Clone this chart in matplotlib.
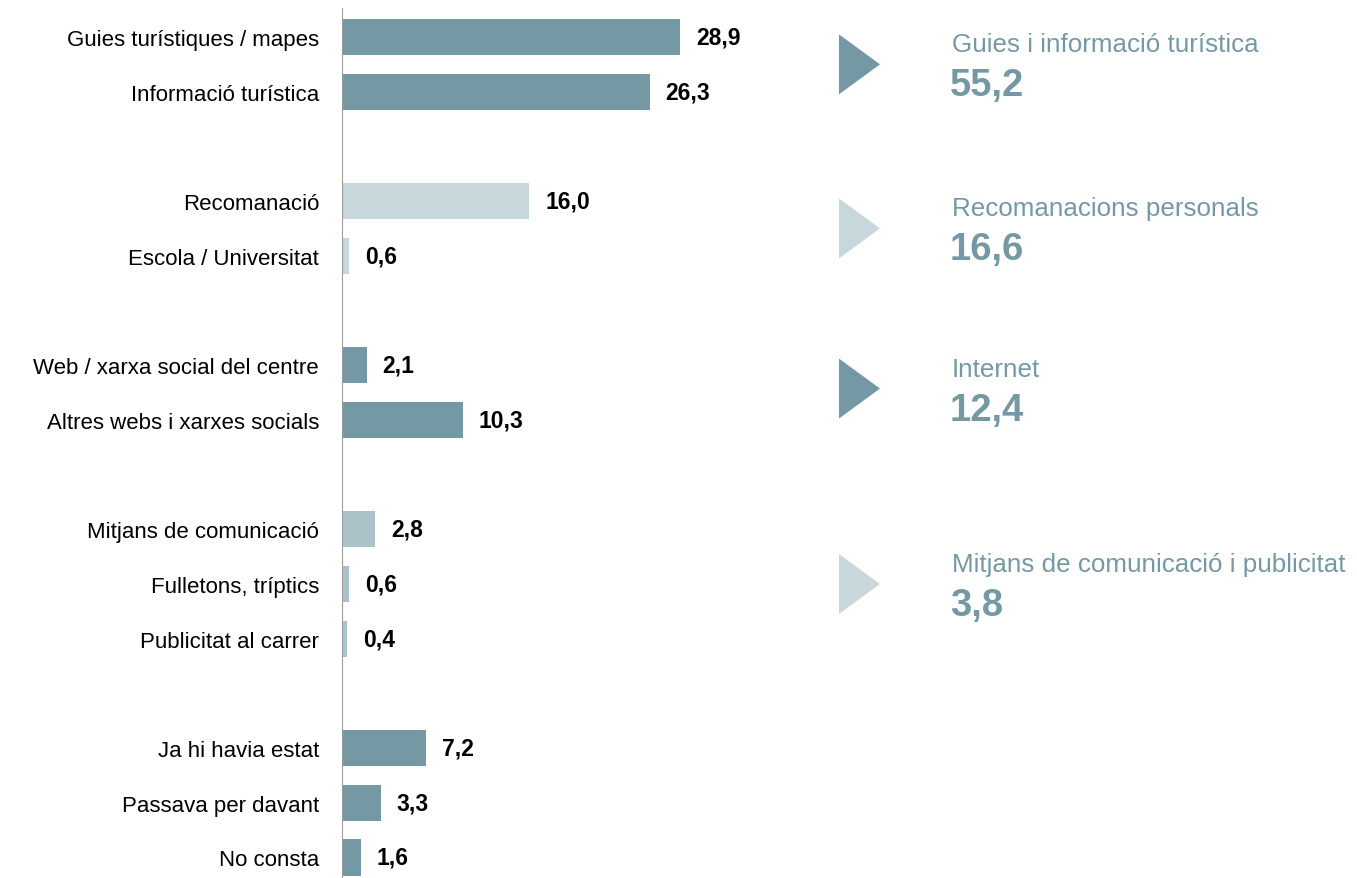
import matplotlib
matplotlib.use("Agg")
import matplotlib.pyplot as plt
from matplotlib.patches import Polygon

plt.rcParams['font.family'] = ['Liberation Sans', 'DejaVu Sans']

# ---- data ----
categories = ["Guies turístiques / mapes", "Informació turística",
              "Recomanació", "Escola / Universitat",
              "Web / xarxa social del centre", "Altres webs i xarxes socials",
              "Mitjans de comunicació", "Fulletons, tríptics", "Publicitat al carrer",
              "Ja hi havia estat", "Passava per davant", "No consta"]
values = [28.9, 26.3, 16.0, 0.6, 2.1, 10.3, 2.8, 0.6, 0.4, 7.2, 3.3, 1.6]
groups = [0, 0, 1, 1, 2, 2, 3, 3, 3, 4, 4, 4]
group_titles = ["Guies i informació turística", "Recomanacions personals",
                "Internet", "Mitjans de comunicació i publicitat"]
group_totals = [55.2, 16.6, 12.4, 3.8]

DARK = "#7499A4"
LIGHT = "#C8D7DC"
MED = "#ABC2C8"
bar_colors_by_group = [DARK, LIGHT, DARK, MED, DARK]
tri_colors = [DARK, LIGHT, DARK, LIGHT]

W, H = 1357, 879
fig = plt.figure(figsize=(W / 100, H / 100), dpi=100)

# slot positions: one empty slot between groups
slots = []
s = 0
prev = groups[0]
for g in groups:
    if g != prev:
        s += 1
        prev = g
    slots.append(s)
    s += 1

px_per_unit = 11.7
slot_px = 54.7
y0_px = 38
x0_px = 342

ax = fig.add_axes([x0_px / W, 0, (W - x0_px) / W, 1])
ax.set_xlim(0, (W - x0_px) / px_per_unit)
ylim_top = -y0_px / slot_px
ylim_bot = (H - y0_px) / slot_px
ax.set_ylim(ylim_bot, ylim_top)

cols = [bar_colors_by_group[g] for g in groups]
ax.barh(slots, values, height=0.66, color=cols, zorder=2)
for y, v in zip(slots, values):
    ax.text(v + 16 / px_per_unit, y, f"{v:.1f}".replace(".", ","), ha="left",
            va="center", fontsize=16.5, fontweight="bold", color="black")

ax.set_yticks(slots)
ax.set_yticklabels(categories, fontsize=16)
ax.tick_params(axis="y", length=0, pad=16.5)
ax.set_xticks([])
for sp in ax.spines.values():
    sp.set_visible(False)
ax.axvline(0, ymin=0, ymax=(H - 10) / H, color="#9a9a9a", lw=1.5, zorder=3)

# right panel overlay
ov = fig.add_axes([0, 0, 1, 1])
ov.set_xlim(0, W)
ov.set_ylim(ylim_bot, ylim_top)
ov.axis("off")
ov.patch.set_alpha(0)

for gi, (title, tot) in enumerate(zip(group_titles, group_totals)):
    gs = [slots[i] for i in range(len(groups)) if groups[i] == gi]
    cy = (min(gs) + max(gs)) / 2
    if gi == 2:
        cy -= 4 / slot_px
    hh = 30 / slot_px
    tri = Polygon([(839, cy - hh), (839, cy + hh), (880, cy)], closed=True,
                  facecolor=tri_colors[gi], edgecolor="none")
    ov.add_patch(tri)
    ov.text(952, cy - 20 / slot_px, title, ha="left", va="center",
            fontsize=18.7, color=DARK)
    ov.text(950, cy + 21 / slot_px, f"{tot:.1f}".replace(".", ","), ha="left",
            va="center", fontsize=27.5, fontweight="bold", color=DARK)

fig.savefig("out.png", dpi=100)
